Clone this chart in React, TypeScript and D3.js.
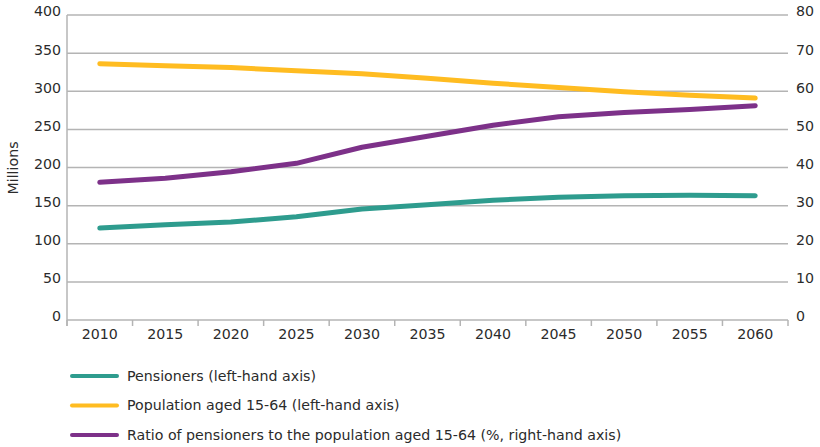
import React from "react";
import * as d3 from "d3";

const years = ["2010","2015","2020","2025","2030","2035","2040","2045","2050","2055","2060"];
const pensioners = [120.5, 125, 128.5, 135.5, 145.5, 151, 157, 161, 163, 163.5, 163];
const population = [336, 333.5, 331, 327, 323, 317, 310.5, 305, 299.5, 294.7, 291];
const ratio = [36.1, 37.2, 38.9, 41.1, 45.3, 48.2, 51.1, 53.3, 54.4, 55.2, 56.2];
const leftTicks = [0, 50, 100, 150, 200, 250, 300, 350, 400];
const rightTicks = [0, 10, 20, 30, 40, 50, 60, 70, 80];

const series = [
  { name: "Pensioners (left-hand axis)", values: pensioners, axis: "left", color: "#2E9C8E" },
  { name: "Population aged 15-64 (left-hand axis)", values: population, axis: "left", color: "#FFBC21" },
  { name: "Ratio of pensioners to the population aged 15-64 (%, right-hand axis)", values: ratio, axis: "right", color: "#7D3189" },
];

export default function App() {
  const W = 820, H = 447;
  const left = 67, right = 788, top = 15, bottom = 320;
  const x = d3.scaleBand().domain(years).range([left, right]);
  const yL = d3.scaleLinear().domain([0, 400]).range([bottom, top]);
  const yR = d3.scaleLinear().domain([0, 80]).range([bottom, top]);
  const font = "'DejaVu Sans', sans-serif";
  const fs = 14.2;
  const txt = "#2b2b2b";
  const grid = "#b4b4b4";
  const boundaries = years.map((_, i) => left + i * x.step()).concat([right]);

  return (
    <svg width={W} height={H} style={{ position: "absolute", left: 0, top: 0, display: "block" }} fontFamily={font}>
      <rect width={W} height={H} fill="#fff" />
      {leftTicks.map((t) => (
        <line key={"g" + t} x1={left} x2={right} y1={yL(t)} y2={yL(t)} stroke={grid} strokeWidth={1.5} />
      ))}
      <line x1={left} x2={left} y1={top} y2={bottom + 6} stroke={grid} strokeWidth={1.5} />
      {boundaries.map((b, i) => (
        <line key={"xt" + i} x1={b} x2={b} y1={bottom} y2={bottom + 6} stroke={grid} strokeWidth={1.5} />
      ))}
      {leftTicks.map((t) => (
        <text key={"l" + t} x={61} y={yL(t)} dy="0.1em" textAnchor="end" fontSize={fs} fill={txt}>{t}</text>
      ))}
      {rightTicks.map((t) => (
        <text key={"r" + t} x={796} y={yR(t)} dy="0.1em" textAnchor="start" fontSize={fs} fill={txt}>{t}</text>
      ))}
      {years.map((yv) => (
        <text key={"x" + yv} x={(x(yv) as number) + x.bandwidth() / 2} y={339} textAnchor="middle" fontSize={fs} fill={txt}>{yv}</text>
      ))}
      <text transform={`translate(18,${168}) rotate(-90)`} textAnchor="middle" fontSize={fs} fill={txt}>Millions</text>
      {series.map((s) => {
        const ys = s.axis === "left" ? yL : yR;
        const line = d3.line<number>()
          .x((_, i) => (x(years[i]) as number) + x.bandwidth() / 2)
          .y((v) => ys(v));
        return (
          <path key={s.name} d={line(s.values) || ""} fill="none" stroke={s.color} strokeWidth={5} strokeLinecap="round" strokeLinejoin="round" />
        );
      })}
      {series.map((s, i) => {
        const ly = 376 + i * 29.5;
        return (
          <g key={"lg" + i}>
            <line x1={72} x2={117} y1={ly} y2={ly} stroke={s.color} strokeWidth={4} strokeLinecap="round" />
            <text x={127} y={ly} dy="0.35em" fontSize={fs} fill={txt}>{s.name}</text>
          </g>
        );
      })}
    </svg>
  );
}
